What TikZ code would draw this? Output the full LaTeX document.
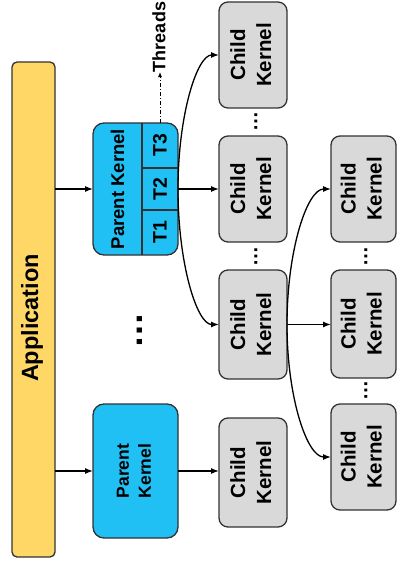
\documentclass[tikz,border=0pt]{standalone}
\usepackage{fontspec}
\setmainfont{Liberation Sans}
\usepackage{graphicx}
\usetikzlibrary{arrows.meta,calc}

\definecolor{appyellow}{RGB}{255,215,102}
\definecolor{kernelcyan}{RGB}{32,192,245}
\definecolor{childgray}{RGB}{217,217,217}
\definecolor{edgegray}{RGB}{50,50,50}

% text set bottom-to-top, one or more centred lines
\newcommand{\vlabel}[1]{\rotatebox{90}{\begin{tabular}{@{}c@{}}#1\end{tabular}}}

\begin{document}
\begin{tikzpicture}[x=1pt,y=-1pt,
  box/.style={draw=edgegray, line width=1.3pt, inner sep=0pt, outer sep=0pt},
  appbox/.style={box, fill=appyellow, rounded corners=5pt,
    minimum width=43pt, minimum height=495pt},
  parentbox/.style={box, fill=kernelcyan, rounded corners=11pt, minimum width=85pt},
  childbox/.style={box, fill=childgray, rounded corners=9pt, minimum width=68pt,
    font=\fontsize{20.5}{26}\selectfont\bfseries},
  childboxR/.style={childbox, minimum width=65pt},
  label/.style={inner sep=0pt, outer sep=0pt},
  tlabel/.style={label, font=\fontsize{19.5}{19.5}\selectfont\bfseries},
  divider/.style={draw=edgegray, line width=1.1pt},
  arr/.style={draw=black, line width=1.3pt, -{Latex[length=8pt,width=6pt]}},
  threadarr/.style={draw=black, line width=0.8pt,
    dash pattern=on 4pt off 2pt on 1pt off 2pt, -{Latex[length=5pt,width=4pt]}},
  smalldots/.style={label, font=\fontsize{20}{20}\selectfont\bfseries},
  bigdots/.style={label, font=\fontsize{36}{36}\selectfont\bfseries},
]
\useasboundingbox (0,0) rectangle (396,569);

% application bar
\node[appbox] (app) at (33.5,309.5) {};
\node[label, font=\fontsize{23.5}{23.5}\selectfont\bfseries] (apptext) at (32,318) {\rotatebox{90}{Application}};

% parent kernel with its threads
\node[parentbox, minimum height=132pt] (pk1) at (135.5,189) {};
\draw[divider] ($(pk1.north west)+(49,0)$) -- ($(pk1.south west)+(49,0)$);
\draw[divider] ($(pk1.north east)+(0,45)$) -- +(-36,0);
\draw[divider] ($(pk1.north east)+(0,87)$) -- +(-36,0);
\node[label, font=\fontsize{18.5}{18.5}\selectfont\bfseries] (pk1text) at (117.5,189) {\rotatebox{90}{Parent Kernel}};
\node[tlabel] (t3) at (160,145.5) {\rotatebox{90}{T3}};
\node[tlabel] (t2) at (160,189) {\rotatebox{90}{T2}};
\node[tlabel] (t1) at (160,232.5) {\rotatebox{90}{T1}};
\node[label, font=\fontsize{18}{18}\selectfont\bfseries] (threads) at (159,37) {\rotatebox{90}{Threads}};

% second parent kernel
\node[parentbox, minimum height=134pt, font=\fontsize{17.5}{22}\selectfont\bfseries] (pk2) at (135.5,471) {\vlabel{Parent\\Kernel}};

\node[bigdots] (pdots) at (140,330) {\rotatebox{90}{…}};

% child kernels, first level
\node[childbox, minimum height=106pt] (c1) at (253,55) {\vlabel{Child\\Kernel}};
\node[childbox, minimum height=106pt] (c2) at (253,189) {\vlabel{Child\\Kernel}};
\node[childbox, minimum height=109pt] (c3) at (253,324.5) {\vlabel{Child\\Kernel}};
\node[childbox, minimum height=109pt] (c4) at (253,472.5) {\vlabel{Child\\Kernel}};

% child kernels, second level
\node[childboxR, minimum height=106pt] (d1) at (363.5,189) {\vlabel{Child\\Kernel}};
\node[childboxR, minimum height=108pt] (d2) at (363.5,324) {\vlabel{Child\\Kernel}};
\node[childboxR, minimum height=106pt] (d3) at (363.5,457) {\vlabel{Child\\Kernel}};

\node[smalldots] (cdots1) at (256,122) {\rotatebox{90}{…}};
\node[smalldots] (cdots2) at (256,256) {\rotatebox{90}{…}};
\node[smalldots] (ddots1) at (366,256) {\rotatebox{90}{…}};
\node[smalldots] (ddots2) at (366,390) {\rotatebox{90}{…}};

% launches
\draw[arr] (app.east |- pk1.west) -- (pk1.west);
\draw[arr] (app.east |- pk2.west) -- (pk2.west);
\draw[threadarr] (t3 |- pk1.north) -- (t3 |- threads.south);

\draw[arr] (pk1.east) -- (c2.west);
\draw[arr] (pk1.east) .. controls +(0,-74) and +(-22,0) .. (c1.west);
\draw[arr] (pk1.east) .. controls +(0,75) and +(-22,0) .. (c3.west);
\draw[arr] (pk2.east) -- (pk2.east -| c4.west);

\draw[arr] (c3.east) -- (c3.east -| d2.west);
\draw[arr] (c3.east) .. controls +(0,-74) and +(-24,0) .. (d1.west);
\draw[arr] (c3.east) .. controls +(0,73) and +(-24,0) .. (d3.west);
\end{tikzpicture}
\end{document}
